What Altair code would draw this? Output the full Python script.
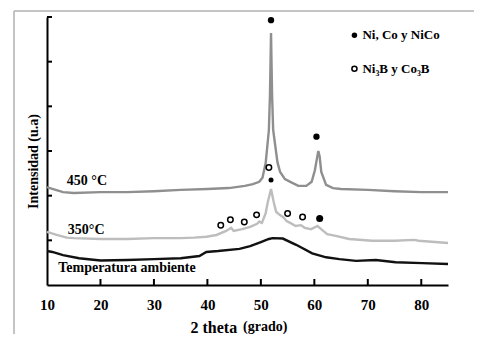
import altair as alt
import pandas as pd

# --- data (2 theta in degrees, intensity in arbitrary units) ---
x_amb = [10, 11, 13, 16, 20, 25, 30, 35, 38.5, 39.8, 42, 46, 48, 50, 51.5, 52.2, 54.1, 56.6,
         59.6, 62.2, 64.7, 67.8, 71.5, 75.2, 80.2, 85]
v_amb = [0.76, 0.74, 0.67, 0.60, 0.55, 0.56, 0.58, 0.60, 0.65, 0.74, 0.76, 0.81, 0.87, 0.96,
         1.03, 1.05, 1.04, 0.90, 0.71, 0.62, 0.58, 0.54, 0.56, 0.51, 0.49, 0.47]

x_350 = [10, 11.8, 13.7, 15, 20, 25, 30, 35, 37.5, 39.8, 41.7, 43.5, 44.45, 44.9, 46.5, 48,
         49.3, 49.7, 50.2, 50.9, 51.3, 51.9, 52.4, 52.85, 53.5, 54.2, 54.8, 55.5, 56.5, 57.5,
         58.2, 59.4, 60.6, 61.5, 62.4, 64, 66.5, 70.8, 75, 78.7, 79.5, 85]
v_350 = [1.19, 1.12, 1.06, 1.05, 1.03, 1.03, 1.05, 1.05, 1.06, 1.08, 1.12, 1.21, 1.28, 1.21,
         1.25, 1.30, 1.37, 1.42, 1.39, 1.61, 1.86, 2.15, 1.86, 1.64, 1.57, 1.52, 1.43, 1.39,
         1.32, 1.34, 1.28, 1.25, 1.32, 1.23, 1.14, 1.10, 1.03, 0.99, 0.99, 1.01, 0.99, 0.94]

x_450 = [10, 11, 13, 15, 20, 25, 30, 35, 40, 44, 47, 48.5, 49.7, 50.3, 50.9, 51.5, 51.7, 51.8,
         51.9, 52.0, 52.1, 52.3, 53.1, 53.6, 54.5, 55.5, 57, 58.5, 59.5, 60.1, 60.5, 60.75,
         61.0, 61.3, 62.2, 63.5, 65, 70, 75, 80, 85]
v_450 = [2.19, 2.15, 2.08, 2.06, 2.08, 2.08, 2.10, 2.13, 2.15, 2.17, 2.22, 2.26, 2.31, 2.40,
         2.73, 3.47, 4.25, 4.92, 5.64, 4.92, 4.25, 3.47, 2.75, 2.53, 2.37, 2.31, 2.22, 2.22,
         2.31, 2.57, 2.84, 3.00, 2.87, 2.53, 2.24, 2.17, 2.15, 2.13, 2.10, 2.08, 2.08]

# phase markers
filled_x = [51.9, 60.4, 51.9, 61.0]
filled_v = [5.93, 3.32, 2.35, 1.49]
filled_s = [40, 40, 25, 50]
open_x = [51.5, 42.5, 44.3, 46.9, 49.2, 55.0, 57.8]
open_v = [2.63, 1.34, 1.46, 1.41, 1.57, 1.60, 1.52]

curve_labels = ["450 °C", "350°C", "Temperatura ambiente"]
curve_label_x = [13.7, 13.9, 12.1]
curve_label_v = [2.33, 1.23, 0.38]

legend_text = ["Ni, Co y NiCo", "Ni₃B y Co₃B"]
legend_sym_x = 67.5
legend_text_x = 69.0
legend_v = [5.59, 4.84]

x_ticks = [20, 30, 40, 50, 60, 70, 80]
y_ticks = [1, 2, 3, 4, 5, 6]

FONT = "Liberation Serif"

lines = pd.concat([
    pd.DataFrame({"x": x_amb, "v": v_amb, "s": "amb"}),
    pd.DataFrame({"x": x_350, "v": v_350, "s": "350"}),
    pd.DataFrame({"x": x_450, "v": v_450, "s": "450"}),
])

xs = alt.Scale(domain=[10, 85], nice=False, zero=False)
ys = alt.Scale(domain=[0, 6], nice=False, zero=False)

xaxis = alt.Axis(
    values=[10, 20, 30, 40, 50, 60, 70, 80], ticks=False, grid=False,
    domainColor="black", domainWidth=2, labelFlush=False,
    labelFont=FONT, labelFontSize=15, labelFontWeight="bold", labelColor="black",
    labelPadding=12,
    title="2 theta", titleFont=FONT, titleFontSize=16, titleFontWeight="bold",
    titleColor="black", titleX=143, titleAlign="left", titleY=42,
    titleBaseline="middle")
yaxis = alt.Axis(
    labels=False, ticks=False, grid=False, domainColor="black", domainWidth=2,
    title="Intensidad (u.a)", titleFont=FONT, titleFontSize=14, titleFontWeight="bold",
    titleColor="black", titleAngle=270, titleX=-14, titleY=144, titleAlign="center",
    titleBaseline="middle")
X = alt.X("x:Q", scale=xs, axis=xaxis)
Y = alt.Y("v:Q", scale=ys, axis=yaxis)

line_layer = alt.Chart(lines).mark_line(strokeWidth=2.4).encode(
    x=X, y=Y,
    color=alt.Color("s:N", scale=alt.Scale(domain=["amb", "350", "450"],
                                            range=["#111111", "#bdbdbd", "#8f8f8f"]),
                    legend=None),
    detail="s:N",
)

filled = alt.Chart(pd.DataFrame({"x": filled_x, "v": filled_v, "sz": filled_s})).mark_point(
    filled=True, color="black", opacity=1).encode(
    x=X, y=Y, size=alt.Size("sz:Q", scale=None))

opened = alt.Chart(pd.DataFrame({"x": open_x, "v": open_v})).mark_point(
    filled=False, color="black", strokeWidth=1.5, size=30, opacity=1).encode(x=X, y=Y)

labels = alt.Chart(pd.DataFrame({"x": curve_label_x, "v": curve_label_v, "t": curve_labels})).mark_text(
    font=FONT, fontSize=14, fontWeight="bold", align="left", baseline="middle", color="black").encode(
    x=X, y=Y, text="t:N")

leg_dot = alt.Chart(pd.DataFrame({"x": [legend_sym_x], "v": [legend_v[0]]})).mark_point(
    filled=True, color="black", size=30, opacity=1).encode(x=X, y=Y)
leg_circ = alt.Chart(pd.DataFrame({"x": [legend_sym_x], "v": [legend_v[1]]})).mark_point(
    filled=False, color="black", size=26, strokeWidth=1.5, opacity=1).encode(x=X, y=Y)
leg_txt = alt.Chart(pd.DataFrame({"x": [legend_text_x] * 2, "v": legend_v, "t": legend_text})).mark_text(
    font=FONT, fontSize=13, fontWeight="bold", align="left", baseline="middle", color="black").encode(
    x=X, y=Y, text="t:N")

ytick = alt.Chart(pd.DataFrame({"v": y_ticks})).mark_rule(color="black", strokeWidth=2).encode(
    y=Y, x=alt.value(0), x2=alt.value(5))
xtick = alt.Chart(pd.DataFrame({"x": x_ticks})).mark_rule(color="black", strokeWidth=2).encode(
    x=X, y=alt.value(268), y2=alt.value(262))

grado = alt.Chart(pd.DataFrame({"t": ["(grado)"]})).mark_text(
    font=FONT, fontSize=14, fontWeight="bold", align="left", baseline="middle", color="black").encode(
    x=alt.value(196), y=alt.value(310), text="t:N")

# figure frame (decoration, left and top edges)
frame_l = alt.Chart(pd.DataFrame({"a": [0]})).mark_rule(color="#b0b0b0", strokeWidth=1.5).encode(
    x=alt.value(-33), y=alt.value(-6), y2=alt.value(317))
frame_t = alt.Chart(pd.DataFrame({"a": [0]})).mark_rule(color="#b0b0b0", strokeWidth=1.5).encode(
    y=alt.value(-6), x=alt.value(-33), x2=alt.value(427))

chart = alt.layer(line_layer, ytick, xtick, filled, opened, labels,
                  leg_dot, leg_circ, leg_txt, grado, frame_l, frame_t).properties(
    width=401, height=268,
    padding={"left": 39, "top": 9, "right": 26, "bottom": 49},
    autosize=alt.AutoSizeParams(type="none"),
).configure_view(stroke=None)

chart.save("out.html", embed_options={"renderer": "svg", "actions": False})
